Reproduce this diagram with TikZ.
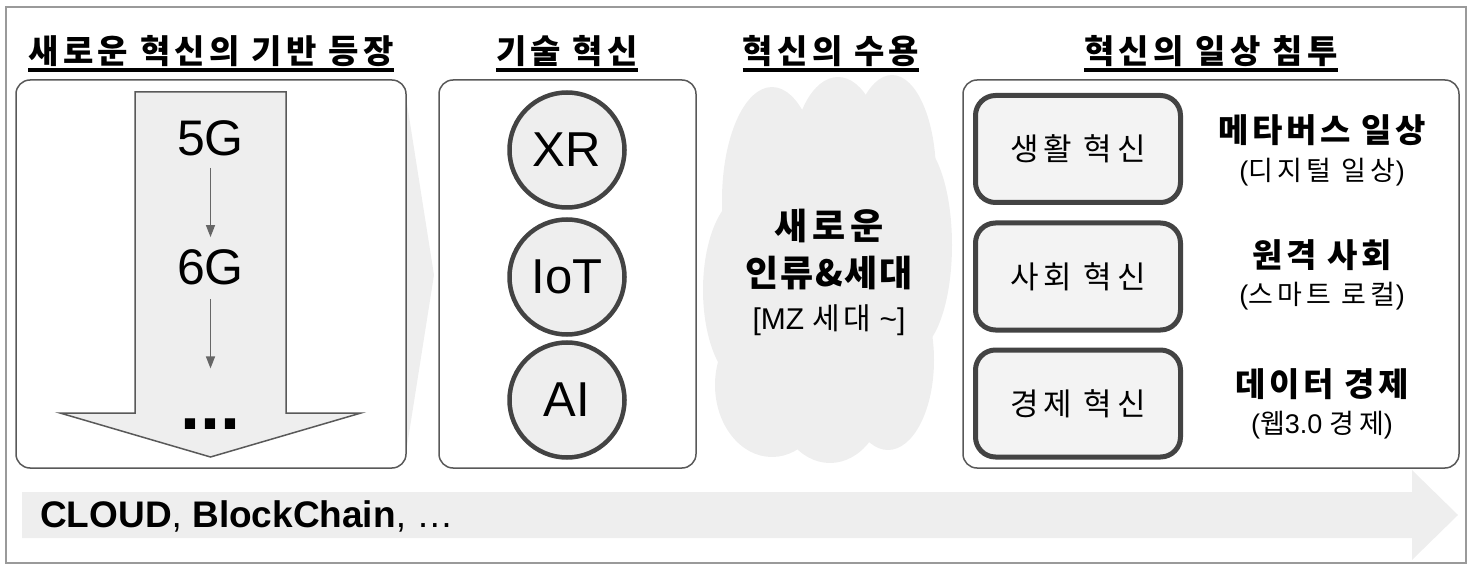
\documentclass[tikz,border=0pt]{standalone}
\usepackage{fontspec}
\setmainfont{Liberation Sans}
\newfontfamily\kr{Noto Sans CJK KR}
\usepackage{tikz}
\usetikzlibrary{arrows.meta}
\definecolor{panelline}{HTML}{595959}
\definecolor{ringline}{HTML}{434343}
\definecolor{softgray}{HTML}{EEEEEE}
\definecolor{palegray}{HTML}{F3F3F3}
\definecolor{frameline}{HTML}{9A9A9A}
\definecolor{flowline}{HTML}{666666}

\begin{document}
\begin{tikzpicture}[x=1pt,y=-1pt,every node/.style={inner sep=0pt},
	heading/.style={font=\kr\bfseries\fontsize{33}{38}\selectfont\addfontfeature{LetterSpace=13},anchor=base},
	panel/.style={draw=panelline,line width=1.5pt,rounded corners=14pt,fill=white},
	tech/.style={circle,draw=ringline,line width=4.5pt,fill=softgray,minimum size=115pt,font=\fontsize{49}{56}\selectfont},
	area/.style={draw=ringline,line width=5pt,rounded corners=20pt,fill=palegray,minimum width=205pt,minimum height=107pt,font=\kr\fontsize{31}{36}\selectfont\addfontfeature{LetterSpace=16}},
	trend/.style={font=\kr\bfseries\fontsize{33}{38}\selectfont\addfontfeature{LetterSpace=11}},
	note/.style={font=\fontsize{27}{30}\selectfont},
	gen/.style={font=\fontsize{50}{58}\selectfont},
	flow/.style={draw=flowline,line width=1.3pt,-{Triangle[length=12pt,width=9pt]}}]

	\useasboundingbox (0,0) rectangle (1468,564);
	\draw[frameline,line width=1.5pt] (6,7) rectangle (1466,563);

	% time runs to the right
	\fill[softgray] (22,492) -- (1412,492) -- (1412,470) -- (1458,515) -- (1412,560) -- (1412,538) -- (22,538) -- cycle;
	\fill[softgray] (405,91) -- (434,275) -- (405,459) -- cycle;

	% headings
	\node[heading] (hbase) at (211,64) {새로운 혁신의 기반 등장};
	\node[heading] (htech) at (567,64) {기술 혁신};
	\node[heading] (haccept) at (831,64) {혁신의 수용};
	\node[heading] (hdaily) at (1211,64) {혁신의 일상 침투};
	\foreach \h in {hbase,htech,haccept,hdaily}
		\draw[line width=4pt] ([yshift=-6pt]\h.base west) -- ([yshift=-6pt]\h.base east);

	\draw[panel] (16,80) rectangle (406,468);
	\draw[panel] (439,80) rectangle (696,468);
	\draw[panel] (963,80) rectangle (1459,468);

	% network generations
	\draw[panelline,line width=1.5pt,fill=softgray] (135,92) -- (286,92) -- (286,413) -- (361,413) -- (210.5,457) -- (60,413) -- (135,413) -- cycle;
	\node[gen] (g5) at (210.5,138) {5G};
	\node[gen] (g6) at (210.5,267) {6G};
	\node[font=\bfseries\fontsize{72}{80}\selectfont] (gmore) at (210.5,424) {...};
	\draw[flow,shorten <=12pt,shorten >=12pt] (g5) -- (g6);
	\draw[flow,shorten <=14pt,shorten >=50pt] (g6) -- (gmore);

	\foreach \name/\txt/\y in {xr/XR/150,iot/IoT/277,ai/AI/400}
		\node[tech] (\name) at (567,\y) {\txt};

	% new generation (cloud of puffs)
	\foreach \cx/\cy/\rx/\ry in {772/200/50/113, 838/165/46/88, 892/175/44/100, 914/245/38/105,
		746/290/43/95, 772/385/57/72, 830/390/56/73, 888/360/46/90, 827/270/100/150}
		\fill[softgray] (\cx,\cy) ellipse [x radius=\rx, y radius=\ry];
	\node[font=\kr\bfseries\fontsize{36}{40}\selectfont\addfontfeature{LetterSpace=14}] (newgen) at (829,226) {새로운};
	\node[font=\kr\bfseries\fontsize{36}{40}\selectfont\addfontfeature{LetterSpace=5}] (human) at (829,273) {인류\&세대};
	\node[font=\fontsize{30}{34}\selectfont] (mz) at (829,320) {[MZ {\kr\addfontfeature{LetterSpace=12}세대} \textasciitilde]};

	\foreach \name/\txt/\y in {life/생활 혁신/149,society/사회 혁신/276.5,economy/경제 혁신/403.5}
		\node[area] (\name) at (1078,\y) {\txt};
	\node[trend] (metaverse) at (1322,130) {메타버스 일상};
	\node[note] (digital) at (1322,172) {({\kr\addfontfeature{LetterSpace=16}디지털 일상})};
	\node[trend] (remote) at (1322,255) {원격 사회};
	\node[note] (smart) at (1322,296) {({\kr\addfontfeature{LetterSpace=16}스마트 로컬})};
	\node[trend] (data) at (1322,384) {데이터 경제};
	\node[note] (web) at (1322,425) {({\kr 웹}3.0 {\kr\addfontfeature{LetterSpace=16}경제})};

	\node[anchor=base west,font=\fontsize{37}{42}\selectfont] (infra) at (40,527) {\textbf{CLOUD}, \textbf{BlockChain}, …};
\end{tikzpicture}
\end{document}
